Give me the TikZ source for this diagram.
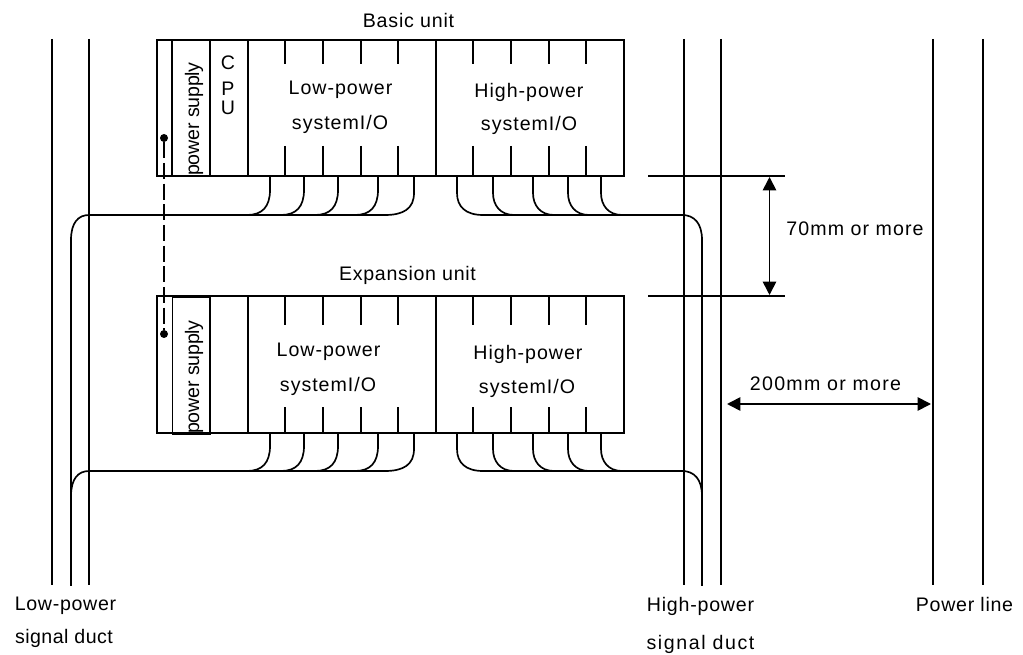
\documentclass[tikz,border=0pt]{standalone}
\usepackage{fontspec}
\setmainfont{Liberation Sans}
\usetikzlibrary{arrows.meta}
\newcommand{\cablesL}[2]{% #1 box bottom y, #2 cable y
  \draw[wire] (270,#1) -- (270,#2-25) .. controls (270,#2-8) and (262,#2) .. (247,#2);
  \draw[wire] (304,#1) -- (304,#2-25) .. controls (304,#2-8) and (296,#2) .. (281,#2);
  \draw[wire] (338,#1) -- (338,#2-25) .. controls (338,#2-8) and (330,#2) .. (315,#2);
  \draw[wire] (378,#1) -- (378,#2-25) .. controls (378,#2-8) and (370,#2) .. (355,#2);
  \draw[wire] (414,#1) -- (414,#2-22) .. controls (414,#2-6) and (403,#2) .. (385,#2) -- (89,#2)
     .. controls (78,#2) and (71,#2+8) .. (71,#2+25);
}
\newcommand{\cablesR}[2]{%
  \draw[wire] (601,#1) -- (601,#2-22) .. controls (601,#2-10) and (608,#2) .. (622,#2);
  \draw[wire] (568,#1) -- (568,#2-22) .. controls (568,#2-10) and (575,#2) .. (589,#2);
  \draw[wire] (533,#1) -- (533,#2-22) .. controls (533,#2-10) and (540,#2) .. (554,#2);
  \draw[wire] (493,#1) -- (493,#2-22) .. controls (493,#2-10) and (500,#2) .. (514,#2);
  \draw[wire] (457,#1) -- (457,#2-22) .. controls (457,#2-8) and (466,#2) .. (483,#2) -- (682,#2)
     .. controls (694,#2) and (702,#2+8) .. (702,#2+25);
}
\tikzset{
  wire/.style={line width=1.25pt},
  duct/.style={line width=1.15pt},
  tick/.style={line width=1.4pt},
  dim/.style={line width=1.25pt, {Triangle[length=10pt,width=10pt]}-{Triangle[length=10pt,width=10pt]}},
  lbl/.style={inner sep=0pt, font=\fontsize{14.7}{17}\selectfont\addfontfeature{LetterSpace=#1}},
  lbl/.default=4,
  dot/.style={circle, fill=black, inner sep=0pt, minimum size=6pt},
}
\begin{document}
\begin{tikzpicture}[x=0.75pt,y=-0.75pt]
\useasboundingbox (0,0) rectangle (1023,655);
% vertical lines
\foreach \x in {52,89,684,721,933,983} \draw[duct] (\x,39) -- (\x,585);
\draw[wire] (71,240) -- (71,586);
\draw[wire] (702,240) -- (702,586);
% upper unit
\draw[wire] (157,40) rectangle (624,176);
\foreach \x in {172,210,248,436} \draw[wire] (\x,40) -- (\x,176);
\foreach \x in {285,323,361,398,473,511,549,586} {
  \draw[tick] (\x,40) -- (\x,64);
  \draw[tick] (\x,146) -- (\x,176);
}
% lower unit
\draw[wire] (157,296) rectangle (624,433);
\draw[wire] (172.5,297) rectangle (210,434);
\foreach \x in {248,436} \draw[wire] (\x,296) -- (\x,433);
\foreach \x in {285,323,361,398,473,511,549,586} {
  \draw[tick] (\x,296) -- (\x,325);
  \draw[tick] (\x,407) -- (\x,433);
}
\cablesL{176}{215}
\cablesR{176}{215}
\cablesL{433}{471}
\cablesR{433}{471}
% link
\node[dot] (d1) at (164,138) {};
\node[dot] (d2) at (164,334) {};
\draw[wire,dash pattern=on 12pt off 3.5pt] (d1) -- (d2);
% dimensions
\coordinate (t1) at (648,176); \coordinate (t2) at (785,176);
\coordinate (b1) at (648,296); \coordinate (b2) at (785,296);
\draw[duct] (t1) -- (t2);
\draw[duct] (b1) -- (b2);
\coordinate (a1) at (769.5,177); \coordinate (a2) at (769.5,295);
\draw[dim] (a1) -- (a2);
\coordinate (h1) at (727,404); \coordinate (h2) at (931,404);
\draw[dim] (h1) -- (h2);
% labels
\node[lbl=4] (basic) at (408.5,21) {Basic unit};
\node[lbl=3.5] (exp) at (407.5,275) {Expansion unit};
\node[lbl=5] (l1a) at (340.5,90) {Low-power};
\node[lbl=5] (l1b) at (340,124) {systemI/O};
\node[lbl=5] (h1a) at (529,92) {High-power};
\node[lbl=5] (h1b) at (529,125) {systemI/O};
\node[lbl=5] (l2a) at (328.5,352) {Low-power};
\node[lbl=5] (l2b) at (328,386) {systemI/O};
\node[lbl=5] (h2a) at (528,354) {High-power};
\node[lbl=5] (h2b) at (527,388) {systemI/O};
\node[lbl=-1,rotate=90] (ps1) at (194,119) {power supply};
\node[lbl=-1,rotate=90] (ps2) at (194,377) {power supply};
\node[lbl=1,align=center] (cpu) at (228,85) {C\\[3pt]P\\[-3pt]U};
\node[lbl=5.5] (d70) at (855,229) {70mm or more};
\node[lbl=6.6] (d200) at (825.5,384) {200mm or more};
\node[lbl=3.5] (lp) at (65.5,606) {Low-power};
\node[lbl=2.4] (lps) at (64,638) {signal duct};
\node[lbl=4] (hp) at (700.5,606) {High-power};
\node[lbl=8] (hps) at (700.5,644) {signal duct};
\node[lbl=3.7] (pl) at (964.5,604) {Power line};
\end{tikzpicture}
\end{document}
